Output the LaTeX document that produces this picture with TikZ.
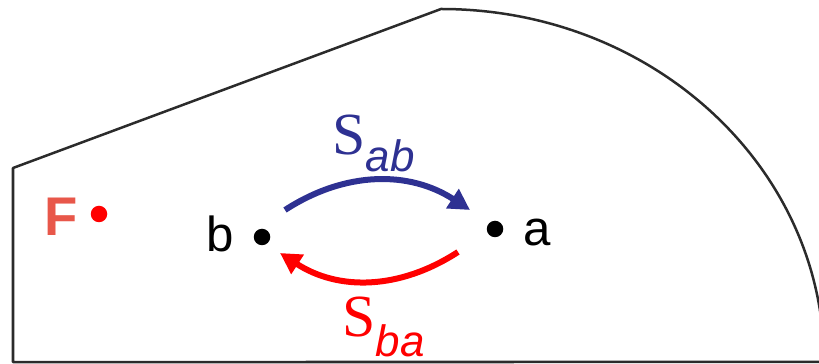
\documentclass[tikz,border=0pt]{standalone}
\usepackage{fontspec}
\setmainfont{Liberation Serif}
\setsansfont{Liberation Sans}
\usetikzlibrary{positioning, arrows.meta}
\definecolor{outlineGrey}{HTML}{2B2B2B}
\definecolor{flowBlue}{HTML}{2E3192}
\definecolor{flowRed}{HTML}{FF0000}
\definecolor{focusText}{HTML}{E8574A}
\definecolor{focusDot}{HTML}{FF0000}

\begin{document}
\begin{tikzpicture}[
  dot/.style={circle, fill=black, inner sep=0pt, minimum size=0.33cm},
  ptlab/.style={anchor=base, inner sep=0pt, font=\sffamily\fontsize{28}{28}\selectfont},
  flow/.style={line width=0.12cm, -{Triangle[length=0.42cm, width=0.44cm]}},
  flowlab/.style={anchor=base west, inner sep=0pt}]
  \useasboundingbox (0,0) rectangle (16.38,7.28);
  % outline
  \begin{scope}
    \clip (0,0) rectangle (16.38,7.28);
    \draw[outlineGrey, line width=0.05cm, line join=round] (0.26,0.04) -- (0.26,3.92) -- (8.82,7.10)
      arc[start angle=90, end angle=0, x radius=7.66cm, y radius=7.06cm] -- cycle;
  \end{scope}

  % points
  \node[dot, fill=focusDot] (f) at (1.98,3.00) {};
  \node[dot] (b) at (5.24,2.54) {};
  \node[dot] (a) at (9.90,2.70) {};
  \node[ptlab, font=\sffamily\bfseries\fontsize{31}{31}\selectfont, text=focusText] (flab) at (1.22,2.56) {F};
  \node[ptlab] (blab) at (4.40,2.24) {b};
  \node[ptlab] (alab) at (10.74,2.36) {a};

  % fluxes
  \draw[flow, flowBlue] ([xshift=0.46cm, yshift=0.54cm]b.center) to[out=33, in=147] ([xshift=-0.50cm, yshift=0.38cm]a.center);
  \draw[flow, flowRed] ([xshift=-0.74cm, yshift=-0.46cm]a.center) to[out=-147, in=-33] ([xshift=0.36cm, yshift=-0.32cm]b.center);
  \node[flowlab, text=flowBlue] (sab) at (6.64,4.18) {\fontsize{34}{34}\selectfont S\raisebox{-0.34cm}{\sffamily\itshape\fontsize{25}{25}\selectfont ab}};
  \node[flowlab, text=flowRed] (sba) at (6.84,0.54) {\fontsize{34}{34}\selectfont S\raisebox{-0.40cm}{\sffamily\itshape\fontsize{25}{25}\selectfont ba}};
\end{tikzpicture}
\end{document}
